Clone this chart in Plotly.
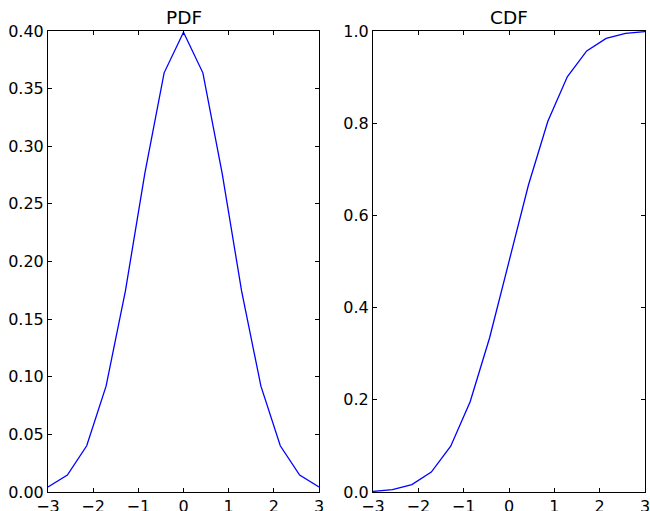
import plotly.graph_objects as go
from plotly.subplots import make_subplots

x_vals = [-3.0, -2.571, -2.143, -1.714, -1.286, -0.857, -0.429, 0.0,
          0.429, 0.857, 1.286, 1.714, 2.143, 2.571, 3.0]
pdf_vals = [0.0044, 0.0147, 0.0401, 0.0918, 0.1745, 0.2763, 0.3637, 0.3989,
            0.3637, 0.2763, 0.1745, 0.0918, 0.0401, 0.0147, 0.0044]
cdf_vals = [0.0013, 0.0051, 0.0161, 0.0432, 0.0993, 0.1957, 0.3341, 0.5,
            0.6659, 0.8043, 0.9007, 0.9568, 0.9839, 0.9949, 0.9987]
titles = ["PDF", "CDF"]

W, H = 650, 511
fig = make_subplots(rows=1, cols=2)
fig.add_trace(go.Scatter(x=x_vals, y=pdf_vals, mode="lines",
                         line=dict(color="#0000ff", width=1.3)), row=1, col=1)
fig.add_trace(go.Scatter(x=x_vals, y=cdf_vals, mode="lines",
                         line=dict(color="#0000ff", width=1.3)), row=1, col=2)

font = dict(family="DejaVu Sans", size=16, color="black")
axcommon = dict(showline=True, linecolor="black", linewidth=1, mirror="allticks",
                ticks="inside", ticklen=4, tickcolor="black", tickwidth=1,
                showgrid=False, zeroline=False, tickfont=font, automargin=False,
                ticklabeloverflow="allow")

fig.update_xaxes(range=[-3, 3], dtick=1, tick0=0, **axcommon)
fig.update_layout(
    xaxis=dict(domain=[48 / W, 319 / W]),
    xaxis2=dict(domain=[373 / W, 645 / W]),
    yaxis=dict(domain=[(H - 492) / H, (H - 31) / H], range=[0, 0.4], dtick=0.05,
               tick0=0, tickformat=".2f", **axcommon),
    yaxis2=dict(domain=[(H - 492) / H, (H - 31) / H], range=[0, 1], dtick=0.2,
                tick0=0, tickformat=".1f", **axcommon),
)

centers = [(48 + 319) / 2 / W, (373 + 645) / 2 / W]
for t, cx in zip(titles, centers):
    fig.add_annotation(text=t, x=cx, y=(H - 31) / H, xref="paper", yref="paper",
                       xanchor="center", yanchor="bottom", yshift=1,
                       showarrow=False, font=dict(family="DejaVu Sans", size=18.5, color="black"))

fig.update_layout(width=W, height=H, margin=dict(l=0, r=0, t=0, b=0),
                  paper_bgcolor="white", plot_bgcolor="white", showlegend=False)
fig.write_html("out.html", config={"displayModeBar": False},
               post_script="document.body.style.margin='0';document.body.style.padding='0';"
                           "document.body.style.overflow='hidden';")
